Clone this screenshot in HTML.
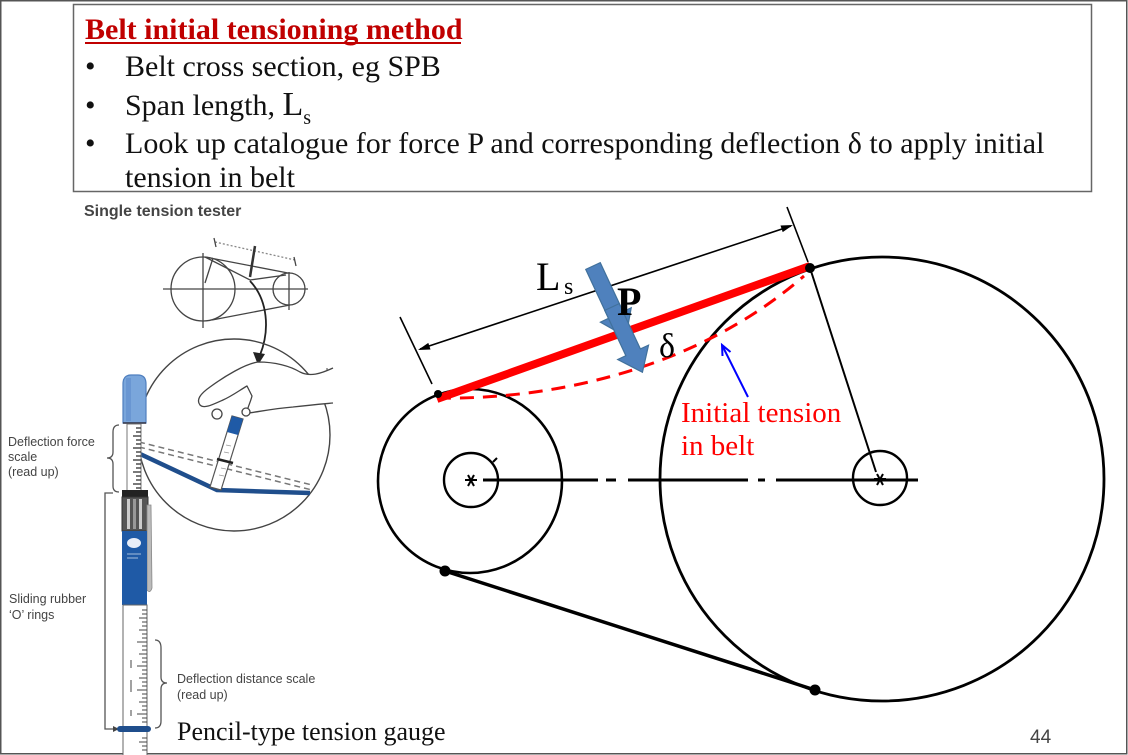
<!DOCTYPE html>
<html>
<head>
<meta charset="utf-8">
<style>
html,body{margin:0;padding:0;background:#fff;}
svg{display:block;}
</style>
</head>
<body>
<svg width="1128" height="755" viewBox="0 0 1128 755" xmlns="http://www.w3.org/2000/svg">
<!-- page frame -->
<rect x="0.75" y="0.75" width="1126" height="753" fill="#fff" stroke="#555" stroke-width="1.5"/>

<!-- header box -->
<rect x="73.5" y="4.5" width="1018" height="187" fill="#fff" stroke="#666" stroke-width="1.5"/>
<g font-family="Liberation Serif, serif" fill="#111">
  <text x="85" y="39" font-size="30" font-weight="bold" fill="#c00000">Belt initial tensioning method</text>
  <line x1="85" y1="43" x2="461" y2="43" stroke="#c00000" stroke-width="2"/>
  <text x="85" y="76" font-size="30">•</text>
  <text x="125" y="76" font-size="30">Belt cross section, eg SPB</text>
  <text x="85" y="115" font-size="30">•</text>
  <text x="125" y="115" font-size="30">Span length, <tspan font-size="34">L</tspan><tspan font-size="20" dy="9">s</tspan></text>
  <text x="85" y="153" font-size="30">•</text>
  <text x="125" y="153" font-size="30">Look up catalogue for force P and corresponding deflection δ to apply initial</text>
  <text x="125" y="187" font-size="30">tension in belt</text>
</g>

<!-- ================= LEFT ILLUSTRATION ================= -->
<text x="84" y="216" font-family="Liberation Sans, sans-serif" font-size="16" font-weight="bold" fill="#444">Single tension tester</text>

<!-- small pulley sketch -->
<g stroke="#444" stroke-width="1.3" fill="none">
  <circle cx="203" cy="289" r="32"/>
  <circle cx="289" cy="289" r="16"/>
  <line x1="163" y1="289" x2="308" y2="289"/>
  <line x1="203" y1="253" x2="203" y2="328"/>
  <line x1="289" y1="272" x2="289" y2="310"/>
  <line x1="205" y1="257" x2="288" y2="273"/>
  <polyline points="205,257 250,280 286,275"/>
  <line x1="212" y1="320" x2="290" y2="305"/>
  <line x1="205" y1="283" x2="213" y2="258"/>
  <line x1="215" y1="242" x2="295" y2="260" stroke="#888" stroke-dasharray="2 2"/>
  <line x1="214" y1="238" x2="216" y2="247"/>
  <line x1="294" y1="257" x2="296" y2="266"/>
  <line x1="255" y1="246" x2="250" y2="277" stroke-width="2.5" stroke="#333"/>
  <path d="M250,281 C268,300 270,330 260,355" stroke="#222" stroke-width="1.8"/>
</g>
<polygon points="253,352 265,354 258,365" fill="#222"/>

<!-- magnified circle -->
<circle cx="234" cy="435" r="96" fill="none" stroke="#444" stroke-width="1.4"/>

<!-- dashed belt positions -->
<g stroke="#777" stroke-width="1.5" stroke-dasharray="6 4">
  <line x1="139" y1="442" x2="312" y2="485"/>
  <line x1="139" y1="447" x2="312" y2="490"/>
</g>
<!-- deflected blue belt -->
<polyline points="138,453 217,490 310,493" fill="none" stroke="#1f4e8c" stroke-width="4.5"/>

<!-- small pencil in hand -->
<polygon points="232,416 243,419 221,490 210,487" fill="#fff" stroke="#555" stroke-width="1.2"/>
<polygon points="232,416 243,419 238,435 227,432" fill="#1f5aa6"/>
<line x1="217" y1="459" x2="233" y2="463" stroke="#222" stroke-width="2.5"/>
<g stroke="#999" stroke-width="0.8">
  <line x1="226" y1="445" x2="231" y2="446"/>
  <line x1="224" y1="452" x2="229" y2="453"/>
  <line x1="221" y1="468" x2="226" y2="469"/>
  <line x1="219" y1="475" x2="224" y2="476"/>
</g>

<!-- hand -->
<g fill="#fff" stroke="#444" stroke-width="1.3" stroke-linejoin="round">
  <path d="M333,368 C320,374 310,377 300,372 C290,366 275,362 258,362 C245,364 225,376 210,387 C200,394 196,400 200,405 C204,409 212,405 223,400 C232,396 240,390 247,386 L252,396 C250,404 246,410 248,413 C258,412 270,409 293,407 C310,405 322,404 333,403"/>
  <circle cx="217" cy="414" r="5"/>
  <circle cx="246" cy="412" r="4"/>
</g>
<line x1="327" y1="370" x2="327" y2="368" stroke="#444"/>

<!-- labels left -->
<g font-family="Liberation Sans, sans-serif" font-size="12.5" fill="#444">
  <text x="8" y="446">Deflection force</text>
  <text x="8" y="461">scale</text>
  <text x="8" y="476">(read up)</text>
  <text x="9" y="603">Sliding rubber</text>
  <text x="9" y="619">‘O’ rings</text>
  <text x="177" y="683">Deflection distance scale</text>
  <text x="177" y="699">(read up)</text>
</g>

<!-- braces and bracket -->
<g fill="none" stroke="#555" stroke-width="1.3">
  <path d="M119,425 Q113,425 113,432 L113,452 Q113,458 107,458 Q113,458 113,464 L113,486 Q113,492 119,492"/>
  <path d="M155,640 Q161,640 161,648 L161,677 Q161,683 167,683 Q161,683 161,689 L161,721 Q161,728 155,728"/>
  <polyline points="113,493 105,493 105,729 114,729"/>
</g>
<polygon points="119,729 113,726 113,732" fill="#444"/>

<!-- gauge pencil -->
<!-- cap -->
<path d="M123,423 L123,384 Q123,375 131,375 L138,375 Q146,375 146,384 L146,423 Z" fill="#7aa6db" stroke="#4f7fbf" stroke-width="1.2"/>
<rect x="126" y="378" width="5" height="43" fill="#5e8ccc" opacity="0.6"/>
<line x1="123" y1="423" x2="146" y2="423" stroke="#334" stroke-width="1.5"/>
<!-- upper scale rod -->
<rect x="127" y="424" width="14" height="67" fill="#fff" stroke="#777" stroke-width="1"/>
<g stroke="#333" stroke-width="1.3">
  <line x1="136" y1="428" x2="141" y2="428"/><line x1="136" y1="432" x2="141" y2="432"/>
  <line x1="133" y1="436" x2="141" y2="436"/><line x1="136" y1="440" x2="141" y2="440"/>
  <line x1="136" y1="444" x2="141" y2="444"/><line x1="133" y1="448" x2="141" y2="448"/>
  <line x1="136" y1="452" x2="141" y2="452"/><line x1="136" y1="456" x2="141" y2="456"/>
  <line x1="133" y1="460" x2="141" y2="460"/><line x1="136" y1="464" x2="141" y2="464"/>
  <line x1="136" y1="468" x2="141" y2="468"/><line x1="133" y1="472" x2="141" y2="472"/>
  <line x1="136" y1="476" x2="141" y2="476"/><line x1="136" y1="480" x2="141" y2="480"/>
  <line x1="133" y1="484" x2="141" y2="484"/><line x1="136" y1="488" x2="141" y2="488"/>
</g>
<!-- black band & body -->
<rect x="122" y="490" width="26" height="7" fill="#222"/>
<rect x="122" y="497" width="26" height="34" fill="#555" stroke="#333" stroke-width="1"/>
<rect x="127" y="499" width="3" height="30" fill="#ccc"/>
<rect x="133" y="499" width="3" height="30" fill="#999"/>
<rect x="139" y="499" width="3" height="30" fill="#ccc"/>
<!-- clip -->
<path d="M147,505 L151,505 L152,588 Q150,594 147,590 Z" fill="#bbb" stroke="#888" stroke-width="0.8"/>
<!-- blue section -->
<rect x="122" y="531" width="25" height="74" fill="#1f5aa6"/>
<ellipse cx="134" cy="543" rx="7" ry="5" fill="#e8eef8"/>
<g stroke="#c9d6ea" stroke-width="0.8">
  <line x1="127" y1="554" x2="141" y2="554"/>
  <line x1="127" y1="558" x2="138" y2="558"/>
</g>
<!-- lower scale -->
<rect x="123" y="605" width="24" height="152" fill="#fff" stroke="#666" stroke-width="1"/>
<g stroke="#444" stroke-width="1">
  <line x1="142" y1="610" x2="147" y2="610"/><line x1="142" y1="614" x2="147" y2="614"/>
  <line x1="139" y1="618" x2="147" y2="618"/><line x1="142" y1="622" x2="147" y2="622"/>
  <line x1="142" y1="626" x2="147" y2="626"/><line x1="139" y1="630" x2="147" y2="630"/>
  <line x1="142" y1="634" x2="147" y2="634"/><line x1="142" y1="638" x2="147" y2="638"/>
  <line x1="137" y1="642" x2="147" y2="642"/><line x1="142" y1="646" x2="147" y2="646"/>
  <line x1="142" y1="650" x2="147" y2="650"/><line x1="139" y1="654" x2="147" y2="654"/>
  <line x1="142" y1="658" x2="147" y2="658"/><line x1="142" y1="662" x2="147" y2="662"/>
  <line x1="137" y1="666" x2="147" y2="666"/><line x1="142" y1="670" x2="147" y2="670"/>
  <line x1="142" y1="674" x2="147" y2="674"/><line x1="139" y1="678" x2="147" y2="678"/>
  <line x1="142" y1="682" x2="147" y2="682"/><line x1="142" y1="686" x2="147" y2="686"/>
  <line x1="137" y1="690" x2="147" y2="690"/><line x1="142" y1="694" x2="147" y2="694"/>
  <line x1="142" y1="698" x2="147" y2="698"/><line x1="139" y1="702" x2="147" y2="702"/>
  <line x1="142" y1="706" x2="147" y2="706"/><line x1="142" y1="710" x2="147" y2="710"/>
  <line x1="137" y1="714" x2="147" y2="714"/><line x1="142" y1="718" x2="147" y2="718"/>
  <line x1="142" y1="722" x2="147" y2="722"/><line x1="142" y1="738" x2="147" y2="738"/>
  <line x1="139" y1="742" x2="147" y2="742"/><line x1="142" y1="746" x2="147" y2="746"/>
  <line x1="142" y1="750" x2="147" y2="750"/>
  <line x1="131" y1="660" x2="131" y2="668"/><line x1="131" y1="680" x2="131" y2="692"/>
  <line x1="131" y1="710" x2="131" y2="716"/>
</g>
<rect x="117" y="726" width="34" height="6" rx="3" fill="#1f4e8c"/>

<text x="177" y="740" font-family="Liberation Serif, serif" font-size="26" fill="#111">Pencil-type tension gauge</text>

<!-- ================= RIGHT DIAGRAM ================= -->
<g fill="none" stroke="#000">
  <circle cx="470" cy="481" r="92" stroke-width="2.6"/>
  <circle cx="471" cy="480" r="27" stroke-width="2.4"/>
  <circle cx="882" cy="479" r="222" stroke-width="2.8"/>
  <circle cx="880" cy="478" r="27" stroke-width="2.4"/>
  <!-- centre line -->
  <g stroke-width="3">
    <line x1="483" y1="480" x2="598" y2="480"/>
    <line x1="606" y1="480" x2="616" y2="480"/>
    <line x1="628" y1="480" x2="748" y2="480"/>
    <line x1="758" y1="480" x2="765" y2="480"/>
    <line x1="776" y1="480" x2="918" y2="480"/>
  </g>
  <!-- radius line -->
  <line x1="810" y1="268" x2="876" y2="472" stroke-width="2"/>
  <!-- lower belt -->
  <line x1="445" y1="571" x2="815" y2="690" stroke-width="3.5"/>
  <!-- dimension line -->
  <line x1="420" y1="349" x2="791" y2="226" stroke-width="1.6"/>
  <line x1="400" y1="317" x2="432" y2="384" stroke-width="1.6"/>
  <line x1="787" y1="207" x2="808" y2="262" stroke-width="1.6"/>
  <!-- star marks -->
  <g stroke-width="2">
    <line x1="465" y1="480" x2="477" y2="480"/>
    <line x1="468" y1="475" x2="474" y2="486"/>
    <line x1="474" y1="475" x2="468" y2="486"/>
    <line x1="874" y1="479" x2="886" y2="479"/>
    <line x1="877" y1="474" x2="883" y2="485"/>
    <line x1="883" y1="474" x2="877" y2="485"/>
    <line x1="493" y1="462" x2="497" y2="458"/>
  </g>
</g>
<polygon points="418,350 430.5,349.5 428.3,342.9" fill="#000"/>
<polygon points="793,225 782.7,232.1 780.5,225.5" fill="#000"/>

<!-- red belt -->
<line x1="437" y1="399" x2="810" y2="266" stroke="#ff0000" stroke-width="8"/>
<path d="M437,398 C540,400 690,375 804,276" fill="none" stroke="#ff0000" stroke-width="3" stroke-dasharray="14 9"/>

<!-- tangent dots -->
<g fill="#000">
  <circle cx="438" cy="394" r="4"/>
  <circle cx="810" cy="268" r="5"/>
  <circle cx="445" cy="571" r="5.5"/>
  <circle cx="815" cy="690" r="5.5"/>
</g>

<!-- force arrow P -->
<g fill="#4f81bd" stroke="#41719c" stroke-width="1.2">
  <polygon transform="translate(593,266) rotate(65)" points="0,-8 54,-8 54,-17 78,0 54,17 54,8 0,8"/>
  <polygon transform="translate(612,307) rotate(65)" points="0,-8 50,-8 50,-17 72,0 50,17 50,8 0,8"/>
</g>

<!-- labels on diagram -->
<g font-family="Liberation Serif, serif" fill="#000">
  <text x="536" y="290" font-size="40">L</text>
  <text x="564" y="294" font-size="24">s</text>
  <text x="617" y="315" font-size="40" font-weight="bold">P</text>
  <text x="659" y="357" font-size="34">δ</text>
</g>

<!-- blue pointer -->
<g stroke="#0000ff" stroke-width="2" fill="none">
  <line x1="748" y1="397" x2="723" y2="347"/>
  <polyline points="730.5,352 722,345 722.5,356"/>
</g>
<g font-family="Liberation Serif, serif" font-size="29" fill="#ff0000">
  <text x="681" y="422">Initial tension</text>
  <text x="681" y="455">in belt</text>
</g>

<text x="1030" y="743" font-family="Liberation Sans, sans-serif" font-size="19" fill="#444">44</text>
</svg>
</body>
</html>
